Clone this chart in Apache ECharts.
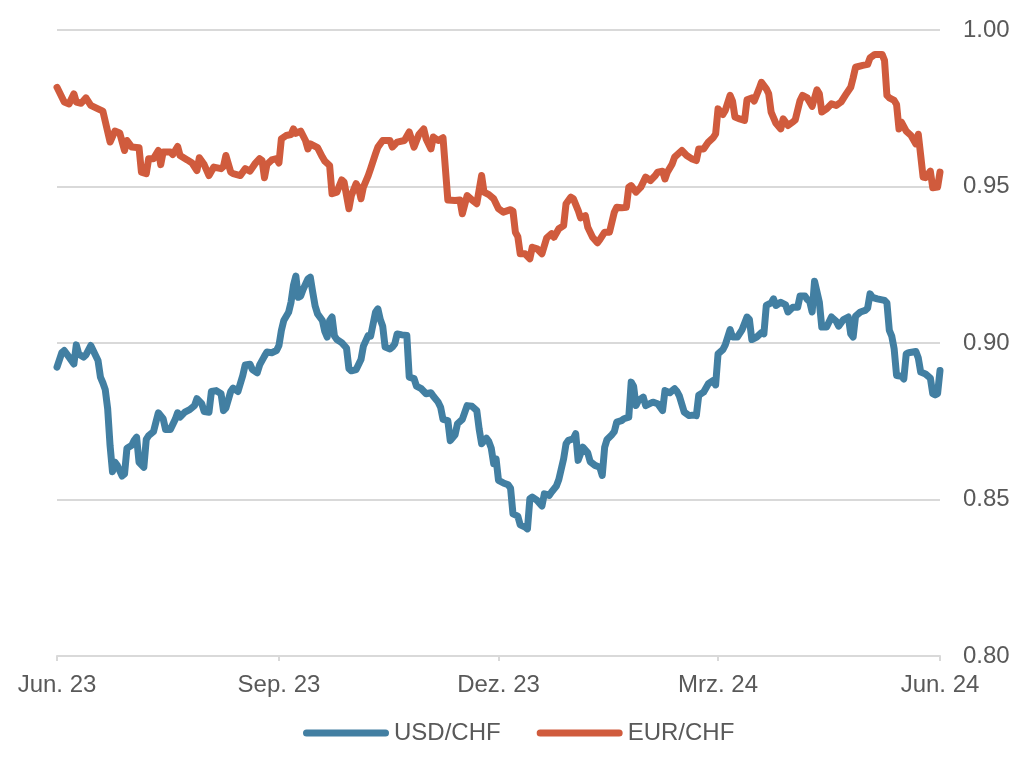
<!DOCTYPE html>
<html>
<head>
<meta charset="utf-8">
<title>USD/CHF und EUR/CHF</title>
<script src="https://cdn.jsdelivr.net/npm/echarts@6/dist/echarts.min.js"></script>
<style>
  html, body { margin: 0; padding: 0; background: #fff; }
  #chart { width: 1024px; height: 776px; }
</style>
</head>
<body>
<div id="chart"></div>
<script>
// Achsenbeschriftung
const tickDates = ['2023-06-01', '2023-09-01', '2023-12-01', '2024-03-01', '2024-06-01'];
const tickLabels = ['Jun. 23', 'Sep. 23', 'Dez. 23', 'Mrz. 24', 'Jun. 24'];

// USD/CHF
const usdDates = [
  '2023-06-01','2023-06-03','2023-06-04','2023-06-06','2023-06-08','2023-06-09','2023-06-10','2023-06-12','2023-06-13','2023-06-15',
  '2023-06-16','2023-06-18','2023-06-19','2023-06-20','2023-06-21','2023-06-22','2023-06-23','2023-06-24','2023-06-25','2023-06-26',
  '2023-06-28','2023-06-29','2023-06-30','2023-07-02','2023-07-03','2023-07-04','2023-07-05','2023-07-07','2023-07-08','2023-07-09',
  '2023-07-11','2023-07-12','2023-07-13','2023-07-15','2023-07-16','2023-07-18','2023-07-20','2023-07-21','2023-07-22','2023-07-24',
  '2023-07-26','2023-07-28','2023-07-29','2023-07-31','2023-08-01','2023-08-03','2023-08-04','2023-08-06','2023-08-08','2023-08-09',
  '2023-08-10','2023-08-12','2023-08-13','2023-08-15','2023-08-17','2023-08-18','2023-08-20','2023-08-21','2023-08-23','2023-08-24',
  '2023-08-26','2023-08-27','2023-08-29','2023-08-31','2023-09-01','2023-09-02','2023-09-03','2023-09-05','2023-09-06','2023-09-07',
  '2023-09-08','2023-09-09','2023-09-10','2023-09-11','2023-09-13','2023-09-14','2023-09-15','2023-09-16','2023-09-17','2023-09-19',
  '2023-09-20','2023-09-21','2023-09-22','2023-09-23','2023-09-24','2023-09-25','2023-09-27','2023-09-29','2023-09-30','2023-10-01',
  '2023-10-03','2023-10-05','2023-10-06','2023-10-08','2023-10-09','2023-10-11','2023-10-12','2023-10-13','2023-10-14','2023-10-15',
  '2023-10-17','2023-10-18','2023-10-19','2023-10-20','2023-10-22','2023-10-24','2023-10-25','2023-10-27','2023-10-28','2023-10-30',
  '2023-11-01','2023-11-03','2023-11-04','2023-11-06','2023-11-07','2023-11-08','2023-11-10','2023-11-11','2023-11-13','2023-11-14',
  '2023-11-16','2023-11-18','2023-11-20','2023-11-22','2023-11-23','2023-11-24','2023-11-26','2023-11-27','2023-11-28','2023-11-29',
  '2023-11-30','2023-12-01','2023-12-03','2023-12-05','2023-12-06','2023-12-07','2023-12-09','2023-12-10','2023-12-12','2023-12-13',
  '2023-12-14','2023-12-15','2023-12-17','2023-12-19','2023-12-20','2023-12-22','2023-12-23','2023-12-25','2023-12-26','2023-12-28',
  '2023-12-29','2023-12-30','2024-01-01','2024-01-02','2024-01-03','2024-01-05','2024-01-07','2024-01-08','2024-01-10','2024-01-12',
  '2024-01-13','2024-01-14','2024-01-15','2024-01-17','2024-01-18','2024-01-19','2024-01-21','2024-01-22','2024-01-24','2024-01-25',
  '2024-01-26','2024-01-27','2024-01-28','2024-01-30','2024-01-31','2024-02-03','2024-02-05','2024-02-07','2024-02-08','2024-02-10',
  '2024-02-12','2024-02-13','2024-02-14','2024-02-16','2024-02-18','2024-02-20','2024-02-21','2024-02-22','2024-02-24','2024-02-26',
  '2024-02-28','2024-02-29','2024-03-01','2024-03-03','2024-03-04','2024-03-06','2024-03-07','2024-03-09','2024-03-11','2024-03-13',
  '2024-03-14','2024-03-15','2024-03-17','2024-03-19','2024-03-20','2024-03-21','2024-03-23','2024-03-24','2024-03-25','2024-03-27',
  '2024-03-29','2024-03-30','2024-04-01','2024-04-03','2024-04-04','2024-04-06','2024-04-07','2024-04-08','2024-04-09','2024-04-10',
  '2024-04-12','2024-04-13','2024-04-15','2024-04-17','2024-04-19','2024-04-20','2024-04-22','2024-04-24','2024-04-25','2024-04-26',
  '2024-04-27','2024-04-29','2024-05-01','2024-05-02','2024-05-03','2024-05-04','2024-05-06','2024-05-09','2024-05-10','2024-05-11',
  '2024-05-12','2024-05-13','2024-05-14','2024-05-16','2024-05-17','2024-05-18','2024-05-19','2024-05-22','2024-05-23','2024-05-24',
  '2024-05-26','2024-05-28','2024-05-29','2024-05-30','2024-05-31','2024-06-01'
];
const usdValues = [
  0.8923,0.8969,0.8976,0.8955,0.8933,0.8994,0.8965,0.8955,0.8962,0.8992,
  0.8976,0.8944,0.8891,0.8873,0.8851,0.8790,0.8672,0.8589,0.8619,0.8609,
  0.8575,0.8582,0.8664,0.8673,0.8689,0.8699,0.8619,0.8603,0.8692,0.8704,
  0.8717,0.8747,0.8777,0.8758,0.8724,0.8724,0.8756,0.8777,0.8763,0.8779,
  0.8787,0.8800,0.8822,0.8806,0.8781,0.8779,0.8845,0.8848,0.8838,0.8784,
  0.8792,0.8845,0.8856,0.8845,0.8896,0.8930,0.8932,0.8915,0.8905,0.8930,
  0.8958,0.8971,0.8969,0.8976,0.8992,0.9040,0.9072,0.9098,0.9130,0.9184,
  0.9214,0.9146,0.9150,0.9171,0.9205,0.9210,0.9162,0.9118,0.9093,0.9072,
  0.9037,0.9019,0.9072,0.9083,0.9022,0.9011,0.9001,0.8984,0.8918,0.8911,
  0.8915,0.8947,0.8990,0.9024,0.9022,0.9098,0.9109,0.9075,0.9054,0.8987,
  0.8981,0.8987,0.8997,0.9029,0.9026,0.9024,0.8891,0.8886,0.8862,0.8854,
  0.8838,0.8841,0.8830,0.8811,0.8795,0.8756,0.8752,0.8688,0.8707,0.8742,
  0.8756,0.8800,0.8798,0.8784,0.8724,0.8678,0.8696,0.8685,0.8664,0.8614,
  0.8630,0.8561,0.8553,0.8547,0.8536,0.8454,0.8447,0.8419,0.8412,0.8406,
  0.8502,0.8508,0.8497,0.8479,0.8518,0.8513,0.8524,0.8543,0.8564,0.8630,
  0.8678,0.8689,0.8694,0.8710,0.8625,0.8667,0.8649,0.8621,0.8609,0.8603,
  0.8577,0.8667,0.8692,0.8707,0.8717,0.8747,0.8752,0.8758,0.8763,0.8875,
  0.8862,0.8800,0.8816,0.8827,0.8800,0.8811,0.8806,0.8784,0.8848,0.8841,
  0.8854,0.8845,0.8830,0.8779,0.8768,0.8770,0.8768,0.8833,0.8843,0.8870,
  0.8880,0.8866,0.8965,0.8979,0.8994,0.9043,0.9019,0.9019,0.9043,0.9083,
  0.9075,0.9011,0.9019,0.9033,0.9029,0.9120,0.9128,0.9141,0.9120,0.9130,
  0.9122,0.9099,0.9114,0.9114,0.9150,0.9150,0.9139,0.9133,0.9099,0.9197,
  0.9130,0.9051,0.9051,0.9083,0.9069,0.9054,0.9075,0.9083,0.9029,0.9019,
  0.9086,0.9099,0.9104,0.9111,0.9157,0.9146,0.9141,0.9136,0.9128,0.9040,
  0.9022,0.8981,0.8896,0.8894,0.8885,0.8965,0.8969,0.8973,0.8952,0.8907,
  0.8901,0.8888,0.8838,0.8834,0.8838,0.8912
];

// EUR/CHF
const eurDates = [
  '2023-06-01','2023-06-04','2023-06-06','2023-06-08','2023-06-09','2023-06-11','2023-06-13','2023-06-15','2023-06-18','2023-06-20',
  '2023-06-23','2023-06-25','2023-06-27','2023-06-29','2023-06-30','2023-07-02','2023-07-05','2023-07-06','2023-07-08','2023-07-09',
  '2023-07-11','2023-07-13','2023-07-14','2023-07-15','2023-07-18','2023-07-19','2023-07-21','2023-07-22','2023-07-25','2023-07-27',
  '2023-07-29','2023-07-30','2023-08-01','2023-08-03','2023-08-05','2023-08-08','2023-08-09','2023-08-10','2023-08-12','2023-08-13',
  '2023-08-16','2023-08-18','2023-08-20','2023-08-22','2023-08-24','2023-08-25','2023-08-26','2023-08-27','2023-08-29','2023-08-31',
  '2023-09-01','2023-09-02','2023-09-04','2023-09-06','2023-09-07','2023-09-08','2023-09-10','2023-09-12','2023-09-13','2023-09-14',
  '2023-09-16','2023-09-17','2023-09-19','2023-09-20','2023-09-22','2023-09-23','2023-09-25','2023-09-27','2023-09-28','2023-09-30',
  '2023-10-01','2023-10-03','2023-10-04','2023-10-05','2023-10-06','2023-10-08','2023-10-09','2023-10-11','2023-10-12','2023-10-14',
  '2023-10-17','2023-10-18','2023-10-20','2023-10-23','2023-10-25','2023-10-27','2023-10-29','2023-10-31','2023-11-01','2023-11-03',
  '2023-11-04','2023-11-06','2023-11-08','2023-11-10','2023-11-13','2023-11-15','2023-11-16','2023-11-18','2023-11-20','2023-11-22',
  '2023-11-24','2023-11-25','2023-11-27','2023-11-29','2023-12-01','2023-12-03','2023-12-06','2023-12-07','2023-12-08','2023-12-09',
  '2023-12-10','2023-12-12','2023-12-14','2023-12-15','2023-12-17','2023-12-19','2023-12-21','2023-12-23','2023-12-24','2023-12-26',
  '2023-12-28','2023-12-29','2023-12-31','2024-01-01','2024-01-03','2024-01-04','2024-01-06','2024-01-07','2024-01-09','2024-01-11',
  '2024-01-12','2024-01-14','2024-01-16','2024-01-18','2024-01-19','2024-01-21','2024-01-23','2024-01-24','2024-01-25','2024-01-27',
  '2024-01-29','2024-01-31','2024-02-02','2024-02-04','2024-02-05','2024-02-07','2024-02-08','2024-02-09','2024-02-11','2024-02-12',
  '2024-02-15','2024-02-17','2024-02-19','2024-02-21','2024-02-22','2024-02-24','2024-02-26','2024-02-28','2024-02-29','2024-03-01',
  '2024-03-03','2024-03-04','2024-03-06','2024-03-07','2024-03-08','2024-03-10','2024-03-12','2024-03-13','2024-03-15','2024-03-16',
  '2024-03-18','2024-03-19','2024-03-21','2024-03-22','2024-03-23','2024-03-25','2024-03-27','2024-03-28','2024-03-30','2024-04-01',
  '2024-04-02','2024-04-04','2024-04-05','2024-04-07','2024-04-09','2024-04-11','2024-04-12','2024-04-13','2024-04-15','2024-04-17',
  '2024-04-19','2024-04-21','2024-04-23','2024-04-25','2024-04-26','2024-04-27','2024-04-30','2024-05-02','2024-05-03','2024-05-05',
  '2024-05-08','2024-05-09','2024-05-10','2024-05-11','2024-05-13','2024-05-14','2024-05-15','2024-05-16','2024-05-18','2024-05-20',
  '2024-05-22','2024-05-23','2024-05-24','2024-05-25','2024-05-26','2024-05-28','2024-05-29','2024-05-31','2024-06-01'
];
const eurValues = [
  0.9817,0.9770,0.9764,0.9796,0.9770,0.9766,0.9783,0.9759,0.9748,0.9741,
  0.9642,0.9677,0.9671,0.9615,0.9647,0.9626,0.9624,0.9546,0.9541,0.9589,
  0.9589,0.9615,0.9570,0.9610,0.9610,0.9602,0.9628,0.9599,0.9585,0.9575,
  0.9551,0.9592,0.9570,0.9535,0.9562,0.9557,0.9564,0.9599,0.9546,0.9541,
  0.9535,0.9557,0.9549,0.9572,0.9589,0.9583,0.9528,0.9570,0.9585,0.9589,
  0.9575,0.9652,0.9663,0.9666,0.9684,0.9670,0.9677,0.9647,0.9620,0.9636,
  0.9628,0.9624,0.9594,0.9581,0.9567,0.9477,0.9482,0.9521,0.9514,0.9429,
  0.9471,0.9509,0.9496,0.9461,0.9498,0.9535,0.9557,0.9604,0.9626,0.9647,
  0.9647,0.9626,0.9642,0.9647,0.9674,0.9626,0.9666,0.9684,0.9652,0.9620,
  0.9658,0.9647,0.9656,0.9457,0.9455,0.9457,0.9413,0.9471,0.9457,0.9445,
  0.9535,0.9482,0.9474,0.9461,0.9429,0.9418,0.9426,0.9421,0.9354,0.9340,
  0.9285,0.9285,0.9269,0.9306,0.9301,0.9285,0.9336,0.9349,0.9338,0.9365,
  0.9375,0.9445,0.9466,0.9461,0.9424,0.9400,0.9407,0.9370,0.9338,0.9320,
  0.9330,0.9354,0.9354,0.9418,0.9434,0.9432,0.9434,0.9498,0.9503,0.9482,
  0.9498,0.9530,0.9519,0.9535,0.9546,0.9549,0.9524,0.9546,0.9572,0.9594,
  0.9615,0.9599,0.9589,0.9583,0.9620,0.9620,0.9642,0.9656,0.9668,0.9748,
  0.9730,0.9743,0.9791,0.9773,0.9722,0.9716,0.9711,0.9777,0.9783,0.9773,
  0.9812,0.9833,0.9812,0.9796,0.9738,0.9702,0.9684,0.9716,0.9695,0.9706,
  0.9713,0.9775,0.9791,0.9783,0.9756,0.9809,0.9796,0.9738,0.9748,0.9764,
  0.9759,0.9770,0.9794,0.9817,0.9847,0.9881,0.9887,0.9890,0.9911,0.9922,
  0.9922,0.9903,0.9791,0.9783,0.9775,0.9762,0.9684,0.9706,0.9677,0.9663,
  0.9636,0.9667,0.9599,0.9530,0.9528,0.9549,0.9496,0.9498,0.9546
];

const seriesNames = ['USD/CHF', 'EUR/CHF'];
const colors = ['#427fa2', '#d05b3d'];
const textColor = '#595959';
const gridColor = '#d9d9d9';

// Tage seit dem ersten Achsendatum (x-Achse als Wertachse)
function dayIndex(s) {
  const p = s.split('-').map(Number);
  const q = tickDates[0].split('-').map(Number);
  return Math.round((Date.UTC(p[0], p[1] - 1, p[2]) - Date.UTC(q[0], q[1] - 1, q[2])) / 86400000);
}

const tickDays = tickDates.map(dayIndex);
const usdData = usdDates.map((d, i) => [dayIndex(d), usdValues[i]]);
const eurData = eurDates.map((d, i) => [dayIndex(d), eurValues[i]]);

const chart = echarts.init(document.getElementById('chart'), null, { renderer: 'canvas' });

const option = {
  animation: false,
  backgroundColor: '#fff',
  color: colors,
  textStyle: { fontFamily: 'Liberation Sans, Arial, sans-serif' },
  grid: { left: 57, right: 84, top: 30, bottom: 120 },
  legend: {
    left: 298,
    top: 716,
    itemWidth: 86,
    itemHeight: 7,
    itemGap: 36,
    icon: 'path://M3.5,0 L82.5,0 A3.5,3.5 0 0 1 82.5,7 L3.5,7 A3.5,3.5 0 0 1 3.5,0 Z',
    textStyle: { color: textColor, fontSize: 24 },
    data: seriesNames
  },
  xAxis: {
    type: 'value',
    min: tickDays[0],
    max: tickDays[tickDays.length - 1],
    axisLine: { show: true, lineStyle: { color: gridColor, width: 2 } },
    axisTick: {
      show: true,
      length: 5,
      customValues: tickDays,
      lineStyle: { color: gridColor, width: 2 }
    },
    axisLabel: {
      customValues: tickDays,
      color: textColor,
      fontSize: 24,
      margin: 17,
      showMinLabel: true,
      showMaxLabel: true,
      formatter: function (value) {
        const i = tickDays.indexOf(value);
        return i >= 0 ? tickLabels[i] : '';
      }
    },
    splitLine: { show: false }
  },
  yAxis: {
    type: 'value',
    position: 'right',
    min: 0.8,
    max: 1.0,
    interval: 0.05,
    axisLine: { show: false },
    axisTick: { show: false },
    axisLabel: {
      color: textColor,
      fontSize: 24,
      margin: 23,
      formatter: v => v.toFixed(2)
    },
    splitLine: { lineStyle: { color: gridColor, width: 2 } }
  },
  series: [
    {
      name: seriesNames[0],
      type: 'line',
      data: usdData,
      showSymbol: false,
      symbol: 'none',
      lineStyle: { width: 7, color: colors[0], cap: 'round', join: 'round' }
    },
    {
      name: seriesNames[1],
      type: 'line',
      data: eurData,
      showSymbol: false,
      symbol: 'none',
      lineStyle: { width: 7, color: colors[1], cap: 'round', join: 'round' }
    }
  ]
};

chart.setOption(option);
</script>
</body>
</html>
